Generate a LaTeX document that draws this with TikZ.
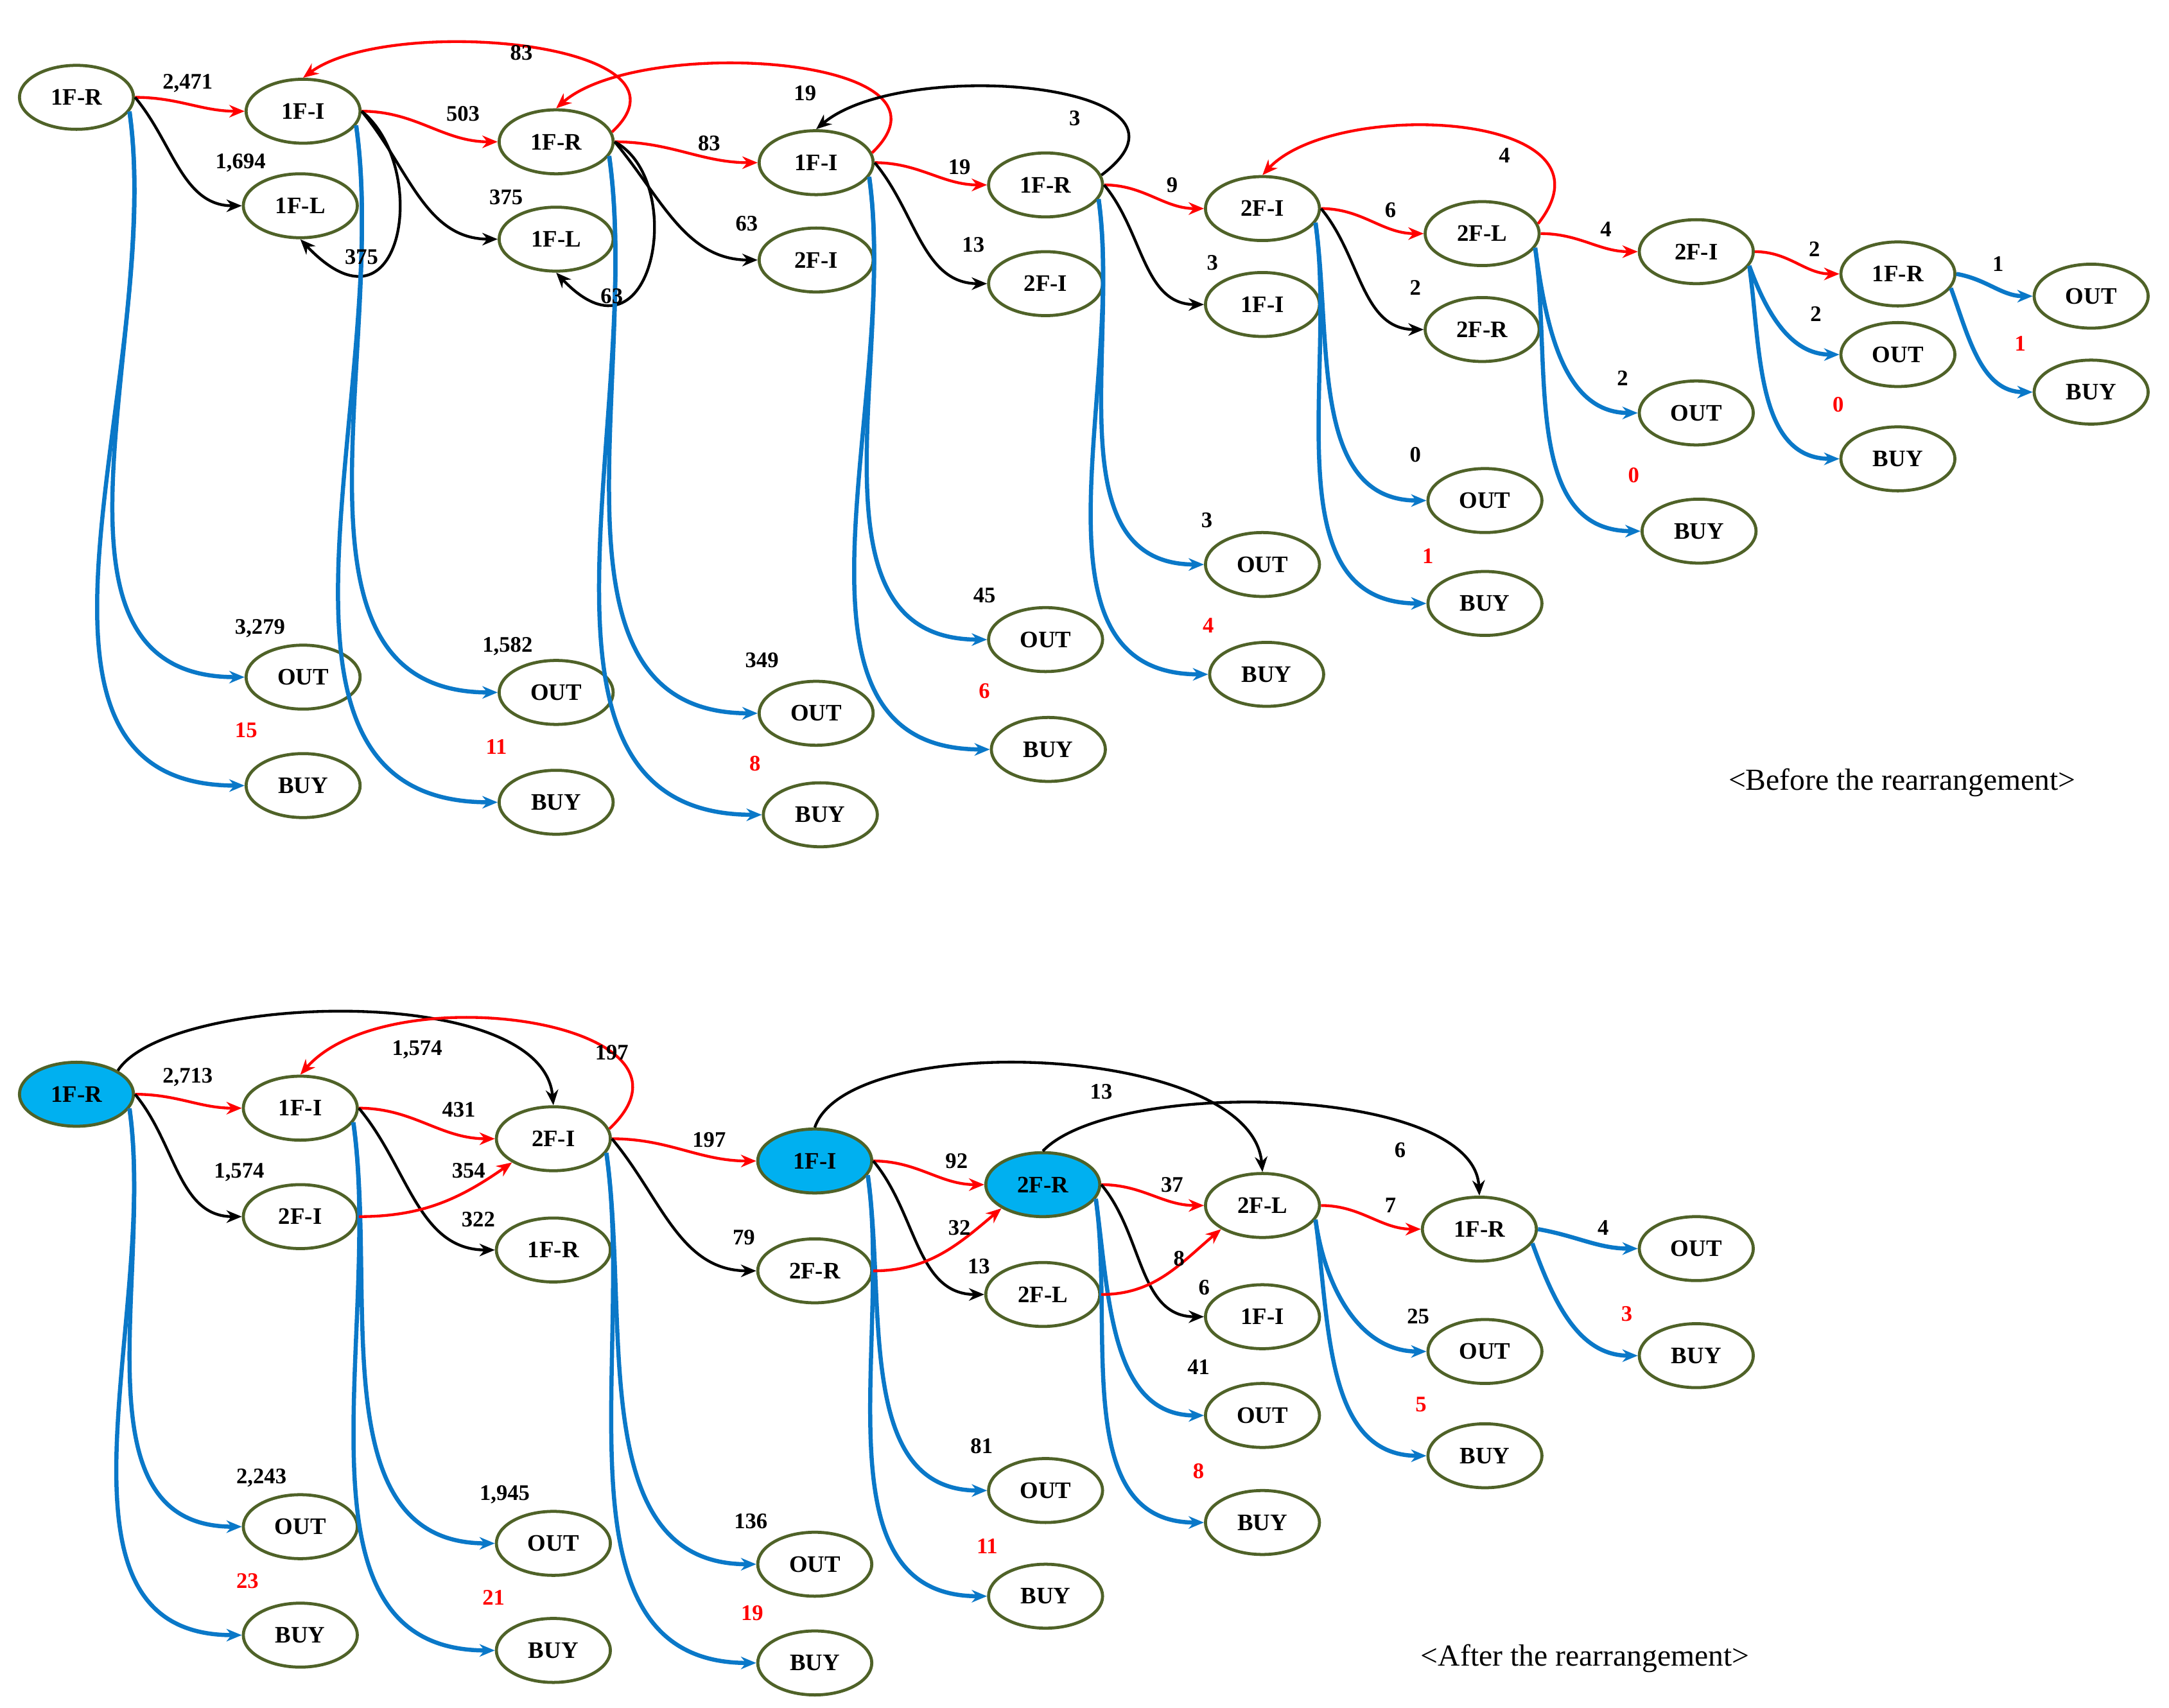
\documentclass[tikz,border=0pt]{standalone}
\usepackage{fontspec}
\setmainfont{Liberation Serif}
\usetikzlibrary{shapes.geometric,arrows.meta}
\definecolor{ol}{HTML}{4F6228}
\definecolor{cy}{HTML}{00B0F0}
\definecolor{bl}{HTML}{0A78C8}
\begin{document}
\begin{tikzpicture}[x=1pt,y=-1pt,
 st/.style={ellipse,draw=ol,line width=2.2pt,minimum width=82pt,minimum height=46pt,inner sep=0pt,font=\bfseries\fontsize{17}{17}\selectfont},
 hf/.style={st,fill=cy},
 lab/.style={font=\bfseries\fontsize{16}{16}\selectfont,inner sep=0pt},
 rl/.style={lab,text=red},
 tip/.style={-{Stealth[length=11pt,width=9pt]}},
 r/.style={draw=red,line width=2pt,tip},
 k/.style={draw=black,line width=2pt,tip},
 b/.style={draw=bl,line width=3pt,tip},
 dn/.style={out=-82,in=180}]
\useasboundingbox (0,0) rectangle (1560,1228);
% ---------- top
\node[st] (A1) at (55,70) {1F-R};
\node[st] (A2) at (218,80) {1F-I};
\node[st] (A3) at (216,148) {1F-L};
\node[st] (A4) at (400,102) {1F-R};
\node[st] (A5) at (400,172) {1F-L};
\node[st] (A6) at (587,117) {1F-I};
\node[st] (A7) at (587,187) {2F-I};
\node[st] (A8) at (752,133) {1F-R};
\node[st] (A9) at (752,204) {2F-I};
\node[st] (A10) at (908,150) {2F-I};
\node[st] (A11) at (908,219) {1F-I};
\node[st] (A12) at (1066,168) {2F-L};
\node[st] (A13) at (1066,237) {2F-R};
\node[st] (A14) at (1220,181) {2F-I};
\node[st] (A15) at (1365,197) {1F-R};
\node[st] (A16) at (1365,255) {OUT};
\node[st] (A17) at (1365,330) {BUY};
\node[st] (A18) at (1504,213) {OUT};
\node[st] (A19) at (1504,282) {BUY};
\node[st] (O1) at (218,487) {OUT}; \node[st] (Y1) at (218,565) {BUY};
\node[st] (O2) at (400,498) {OUT}; \node[st] (Y2) at (400,577) {BUY};
\node[st] (O3) at (587,513) {OUT}; \node[st] (Y3) at (590,586) {BUY};
\node[st] (O4) at (752,460) {OUT}; \node[st] (Y4) at (754,539) {BUY};
\node[st] (O5) at (908,406) {OUT}; \node[st] (Y5) at (911,485) {BUY};
\node[st] (O6) at (1068,360) {OUT}; \node[st] (Y6) at (1068,434) {BUY};
\node[st] (O7) at (1220,297) {OUT}; \node[st] (Y7) at (1222,382) {BUY};
% edges top
\draw[r] (A1.east) to[out=0,in=180] (A2.west);
\draw[k] (A1.east) to[out=-50,in=180] (A3.west);
\draw[b] (A1.-15) to[dn] (O1.west);
\draw[b] (A1.-15) to[dn] (Y1.west);
\draw[r] (A2.east) to[out=0,in=180] (A4.west);
\draw[k] (A2.east) to[out=-50,in=180] (A5.west);
\draw[k] (A2.east) .. controls (310,120) and (290,250) .. (A3.south);
\draw[b] (A2.-15) to[dn] (O2.west);
\draw[b] (A2.-15) to[dn] (Y2.west);
\draw[r] (A4.10) .. controls (510,30) and (280,10) .. (A2.north);
\draw[r] (A4.east) to[out=0,in=180] (A6.west);
\draw[k] (A4.east) to[out=-50,in=180] (A7.west);
\draw[k] (A4.east) .. controls (495,130) and (470,270) .. (A5.south);
\draw[b] (A4.-15) to[dn] (O3.west);
\draw[b] (A4.-15) to[dn] (Y3.west);
\draw[r] (A6.10) .. controls (700,40) and (460,25) .. (A4.north);
\draw[r] (A6.east) to[out=0,in=180] (A8.west);
\draw[k] (A6.east) to[out=-50,in=180] (A9.west);
\draw[b] (A6.-15) to[dn] (O4.west);
\draw[b] (A6.-15) to[dn] (Y4.west);
\draw[k] (A8.10) .. controls (880,60) and (650,40) .. (A6.north);
\draw[r] (A8.east) to[out=0,in=180] (A10.west);
\draw[k] (A8.east) to[out=-50,in=180] (A11.west);
\draw[b] (A8.-15) to[dn] (O5.west);
\draw[b] (A8.-15) to[dn] (Y5.west);
\draw[r] (A10.east) to[out=0,in=180] (A12.west);
\draw[k] (A10.east) to[out=-50,in=180] (A13.west);
\draw[b] (A10.-15) to[dn] (O6.west);
\draw[b] (A10.-15) to[dn] (Y6.west);
\draw[r] (A12.10) .. controls (1170,80) and (960,70) .. (A10.north);
\draw[r] (A12.east) to[out=0,in=180] (A14.west);
\draw[b] (A12.-15) to[dn] (O7.west);
\draw[b] (A12.-15) to[dn] (Y7.west);
\draw[r] (A14.east) to[out=0,in=180] (A15.west);
\draw[b] (A14.-15) to[out=-70,in=180] (A16.west);
\draw[b] (A14.-15) to[dn] (A17.west);
\draw[b] (A15.east) to[out=-10,in=180] (A18.west);
\draw[b] (A15.-15) to[out=-70,in=180] (A19.west);
% labels top
\node[lab] at (135,60) {2,471};
\node[lab] at (173,117) {1,694};
\node[lab] at (187,452) {3,279};
\node[rl] at (177,525) {15};
\node[lab] at (333,82) {503};
\node[lab] at (364,142) {375};
\node[lab] at (260,185) {375};
\node[lab] at (365,465) {1,582};
\node[rl] at (357,537) {11};
\node[lab] at (375,38) {83};
\node[lab] at (510,103) {83};
\node[lab] at (537,161) {63};
\node[lab] at (440,213) {63};
\node[lab] at (548,475) {349};
\node[rl] at (543,549) {8};
\node[lab] at (579,67) {19};
\node[lab] at (690,120) {19};
\node[lab] at (700,176) {13};
\node[lab] at (708,428) {45};
\node[rl] at (708,497) {6};
\node[lab] at (773,85) {3};
\node[lab] at (843,133) {9};
\node[lab] at (872,189) {3};
\node[lab] at (868,374) {3};
\node[rl] at (869,450) {4};
\node[lab] at (1000,151) {6};
\node[lab] at (1018,207) {2};
\node[lab] at (1018,327) {0};
\node[rl] at (1027,400) {1};
\node[lab] at (1082,112) {4};
\node[lab] at (1155,165) {4};
\node[lab] at (1167,272) {2};
\node[rl] at (1175,342) {0};
\node[lab] at (1305,179) {2};
\node[lab] at (1306,226) {2};
\node[rl] at (1322,291) {0};
\node[lab] at (1437,190) {1};
\node[rl] at (1453,247) {1};
\node[font=\fontsize{22}{22}\selectfont,inner sep=0] (T1) at (1368,563) {<Before the rearrangement>};
% ---------- bottom
\node[hf] (B1) at (55,787) {1F-R};
\node[st] (B2) at (216,797) {1F-I};
\node[st] (B3) at (216,875) {2F-I};
\node[st] (B4) at (398,819) {2F-I};
\node[st] (B5) at (398,899) {1F-R};
\node[hf] (B6) at (586,835) {1F-I};
\node[st] (B7) at (586,914) {2F-R};
\node[hf] (B8) at (750,852) {2F-R};
\node[st] (B9) at (750,931) {2F-L};
\node[st] (B10) at (908,867) {2F-L};
\node[st] (B11) at (908,947) {1F-I};
\node[st] (B12) at (1064,884) {1F-R};
\node[st] (B13) at (1220,898) {OUT};
\node[st] (B14) at (1220,975) {BUY};
\node[st] (P1) at (216,1098) {OUT}; \node[st] (Q1) at (216,1176) {BUY};
\node[st] (P2) at (398,1110) {OUT}; \node[st] (Q2) at (398,1187) {BUY};
\node[st] (P3) at (586,1125) {OUT}; \node[st] (Q3) at (586,1196) {BUY};
\node[st] (P4) at (752,1072) {OUT}; \node[st] (Q4) at (752,1148) {BUY};
\node[st] (P5) at (908,1018) {OUT}; \node[st] (Q5) at (908,1095) {BUY};
\node[st] (P6) at (1068,972) {OUT}; \node[st] (Q6) at (1068,1047) {BUY};
% edges bottom
\draw[k] (B1.north east) .. controls (120,715) and (390,705) .. (B4.north);
\draw[r] (B1.east) to[out=0,in=180] (B2.west);
\draw[k] (B1.east) to[out=-50,in=180] (B3.west);
\draw[b] (B1.-15) to[dn] (P1.west);
\draw[b] (B1.-15) to[dn] (Q1.west);
\draw[r] (B2.east) to[out=0,in=180] (B4.west);
\draw[k] (B2.east) to[out=-50,in=180] (B5.west);
\draw[b] (B2.-15) to[dn] (P2.west);
\draw[b] (B2.-15) to[dn] (Q2.west);
\draw[r] (B3.east) to[out=0,in=215] (B4.south west);
\draw[r] (B4.10) .. controls (520,735) and (280,700) .. (B2.north);
\draw[r] (B4.east) to[out=0,in=180] (B6.west);
\draw[k] (B4.east) to[out=-50,in=180] (B7.west);
\draw[b] (B4.-15) to[dn] (P3.west);
\draw[b] (B4.-15) to[dn] (Q3.west);
\draw[k] (B6.north) .. controls (610,740) and (900,750) .. (B10.north);
\draw[r] (B6.east) to[out=0,in=180] (B8.west);
\draw[k] (B6.east) to[out=-50,in=180] (B9.west);
\draw[b] (B6.-15) to[dn] (P4.west);
\draw[b] (B6.-15) to[dn] (Q4.west);
\draw[r] (B7.east) to[out=0,in=220] (B8.south west);
\draw[k] (B8.north) .. controls (800,775) and (1060,780) .. (B12.north);
\draw[r] (B8.east) to[out=0,in=180] (B10.west);
\draw[k] (B8.east) to[out=-50,in=180] (B11.west);
\draw[b] (B8.-15) to[dn] (P5.west);
\draw[b] (B8.-15) to[dn] (Q5.west);
\draw[r] (B9.east) to[out=0,in=220] (B10.south west);
\draw[r] (B10.east) to[out=0,in=180] (B12.west);
\draw[b] (B10.-15) to[dn] (P6.west);
\draw[b] (B10.-15) to[dn] (Q6.west);
\draw[b] (B12.east) to[out=-10,in=180] (B13.west);
\draw[b] (B12.-15) to[out=-70,in=180] (B14.west);
% labels bottom
\node[lab] at (300,755) {1,574};
\node[lab] at (135,775) {2,713};
\node[lab] at (172,843) {1,574};
\node[lab] at (188,1063) {2,243};
\node[rl] at (178,1137) {23};
\node[lab] at (330,798) {431};
\node[lab] at (337,842) {354};
\node[lab] at (344,877) {322};
\node[lab] at (363,1075) {1,945};
\node[rl] at (355,1149) {21};
\node[lab] at (440,757) {197};
\node[lab] at (510,820) {197};
\node[lab] at (535,890) {79};
\node[lab] at (540,1094) {136};
\node[rl] at (541,1160) {19};
\node[lab] at (792,785) {13};
\node[lab] at (688,835) {92};
\node[lab] at (690,883) {32};
\node[lab] at (704,911) {13};
\node[lab] at (706,1040) {81};
\node[rl] at (710,1112) {11};
\node[lab] at (1007,827) {6};
\node[lab] at (843,852) {37};
\node[lab] at (848,905) {8};
\node[lab] at (866,926) {6};
\node[lab] at (862,983) {41};
\node[rl] at (862,1058) {8};
\node[lab] at (1000,867) {7};
\node[lab] at (1020,947) {25};
\node[rl] at (1022,1010) {5};
\node[lab] at (1153,883) {4};
\node[rl] at (1170,945) {3};
\node[font=\fontsize{22}{22}\selectfont,inner sep=0] (T2) at (1140,1193) {<After the rearrangement>};
\end{tikzpicture}
\end{document}
